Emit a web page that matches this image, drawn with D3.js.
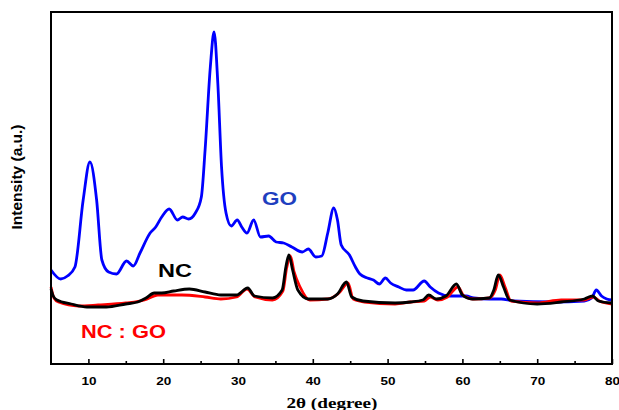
<!DOCTYPE html>
<html>
<head>
<meta charset="utf-8">
<script src="https://cdn.jsdelivr.net/npm/d3@7"></script>
<style>
  body { margin: 0; background: #fff; }
  svg { display: block; }
  .tick text { font-family: Arial, "Liberation Sans", sans-serif; font-weight: bold; font-size: 11px; }
</style>
</head>
<body>
<svg width="619" height="410"></svg>
<script>
// 2theta (degree) and intensity (a.u.)
var goX = [5.0, 6.3, 7.2, 8.2, 9.3, 10.2, 11.1, 11.8, 12.7, 13.75, 15.1, 16.0, 16.9, 18.25, 19.0, 19.8, 20.8, 21.9, 22.6, 23.4, 24.3, 25.1, 25.6, 26.3, 26.8, 27.3, 27.8, 28.4, 29.1, 29.9, 30.5, 31.2, 32.1, 33.0, 34.1, 35.1, 36.1, 37.2, 38.6, 39.4, 40.4, 41.2, 42.0, 42.8, 43.3, 43.8, 44.9, 45.7, 46.3, 47.3, 48.1, 48.9, 49.7, 50.4, 51.5, 52.5, 53.4, 54.9, 55.7, 56.8, 58.3, 60.5, 61.5, 63.6, 65.2, 66.8, 72.1, 76.3, 77.3, 77.9, 78.6, 79.3, 80.0];
var goY = [940, 850, 880, 970, 1640, 2020, 1640, 1040, 920, 900, 1030, 980, 1110, 1310, 1370, 1470, 1550, 1440, 1470, 1450, 1510, 1670, 2140, 2970, 3320, 2810, 1970, 1510, 1380, 1440, 1370, 1310, 1440, 1270, 1280, 1220, 1210, 1170, 1120, 1150, 1070, 1080, 1310, 1560, 1440, 1190, 1090, 970, 900, 860, 840, 800, 860, 810, 770, 740, 740, 830, 770, 710, 680, 680, 660, 650, 650, 630, 620, 630, 660, 740, 680, 650, 640];

var ncX = [5.0, 5.3, 5.8, 7.7, 9.8, 12.4, 15.0, 16.6, 17.7, 18.8, 19.8, 21.4, 23.5, 25.6, 27.7, 29.8, 31.3, 32.2, 34.6, 35.9, 36.4, 36.8, 37.3, 38.0, 39.4, 42.0, 43.3, 44.5, 45.2, 46.7, 51.0, 53.1, 54.7, 55.5, 56.5, 57.8, 59.2, 60.0, 61.3, 63.6, 64.2, 64.8, 65.5, 66.3, 70.0, 73.2, 76.3, 77.4, 78.2, 80.0];
var ncY = [750, 680, 640, 600, 570, 570, 600, 620, 660, 710, 710, 730, 750, 720, 690, 690, 760, 680, 660, 740, 970, 1090, 940, 740, 650, 650, 700, 820, 670, 630, 610, 620, 640, 690, 650, 680, 800, 690, 650, 660, 740, 890, 770, 640, 600, 620, 650, 680, 630, 610];

var ncgoX = [5.0, 5.4, 6.0, 8.7, 11.3, 15.0, 17.5, 19.3, 22.5, 25.6, 27.7, 29.8, 31.2, 32.3, 34.6, 36.0, 36.5, 37.0, 37.5, 38.3, 39.6, 42.0, 43.5, 44.7, 45.4, 46.9, 51.0, 53.1, 54.9, 55.7, 56.7, 58.0, 59.4, 60.2, 61.5, 63.6, 64.4, 65.0, 65.7, 66.5, 70.0, 73.2, 76.3, 77.5, 78.3, 80.0];
var ncgoY = [770, 660, 620, 580, 590, 610, 640, 690, 690, 670, 650, 670, 750, 670, 640, 730, 960, 1080, 920, 770, 640, 650, 710, 810, 650, 620, 600, 620, 630, 670, 640, 670, 770, 680, 650, 660, 740, 890, 770, 630, 610, 640, 640, 670, 630, 600];

var majorTicks = [10, 20, 30, 40, 50, 60, 70, 80];
var minorTicks = [15, 25, 35, 45, 55, 65, 75];

var svg = d3.select("svg");
var plotLeft = 51, plotRight = 612, plotTop = 12, plotBottom = 364;

var x = d3.scaleLinear().domain([5, 80]).range([plotLeft, plotRight]);
var y = d3.scaleLinear().domain([0, 3520]).range([plotBottom, plotTop]);

function series(xs, ys) {
	return xs.map(function(d, i) { return [d, ys[i]]; });
}

var line = d3.line()
	.x(function(d) { return x(d[0]); })
	.y(function(d) { return y(d[1]); })
	.curve(d3.curveMonotoneX);

var plots = [
	{data: series(goX, goY), colour: "#0000ff"},
	{data: series(ncgoX, ncgoY), colour: "#ff0000"},
	{data: series(ncX, ncY), colour: "#000000"}
];

svg.selectAll("path.trace").data(plots)
	.enter()
	.append("path")
	.attr("class", "trace")
	.attr("d", function(d) { return line(d.data); })
	.attr("fill", "none")
	.attr("stroke", function(d) { return d.colour; })
	.attr("stroke-width", 2.8)
	.attr("stroke-linejoin", "round");

// x axis, ticks pointing inward
svg.append("g")
	.attr("transform", "translate(0," + plotBottom + ")")
	.call(d3.axisBottom(x).tickValues(majorTicks).tickSize(-5).tickPadding(13).tickFormat(d3.format("d")))
	.call(function(g) {
		g.select(".domain").remove();
		g.selectAll(".tick line").attr("stroke-width", 1.6);
		// the picture is stretched a little sideways
		g.selectAll(".tick text").attr("textLength", 15).attr("lengthAdjust", "spacingAndGlyphs");
	});

svg.append("g")
	.attr("transform", "translate(0," + plotBottom + ")")
	.call(d3.axisBottom(x).tickValues(minorTicks).tickSize(-3).tickFormat(""))
	.call(function(g) {
		g.select(".domain").remove();
		g.selectAll(".tick line").attr("stroke-width", 1.6);
	});

// frame
svg.append("rect")
	.attr("x", plotLeft)
	.attr("y", plotTop)
	.attr("width", plotRight - plotLeft)
	.attr("height", plotBottom - plotTop)
	.attr("fill", "none")
	.attr("stroke", "#000")
	.attr("stroke-width", 2);

svg.append("text")
	.attr("x", 332)
	.attr("y", 408)
	.attr("text-anchor", "middle")
	.attr("textLength", 91)
	.attr("lengthAdjust", "spacingAndGlyphs")
	.style("font-family", "'Liberation Serif', 'Times New Roman', serif")
	.style("font-weight", "bold")
	.style("font-size", "15px")
	.text("2θ (degree)");

svg.append("text")
	.attr("transform", "translate(22,177) rotate(-90)")
	.attr("text-anchor", "middle")
	.attr("textLength", 105)
	.attr("lengthAdjust", "spacingAndGlyphs")
	.style("font-family", "Arial, 'Liberation Sans', sans-serif")
	.style("font-weight", "bold")
	.style("font-size", "14px")
	.text("Intensity (a.u.)");

// curve labels
var labels = [
	{text: "GO", at: [33.2, 1590], colour: "#1f3fbf", width: 35},
	{text: "NC", at: [19.3, 870], colour: "#000", width: 34},
	{text: "NC : GO", at: [9.0, 260], colour: "#ff0000", width: 85}
];
svg.selectAll("text.lab").data(labels)
	.enter()
	.append("text")
	.attr("class", "lab")
	.attr("x", function(d) { return x(d.at[0]); })
	.attr("y", function(d) { return y(d.at[1]); })
	.attr("fill", function(d) { return d.colour; })
	.attr("textLength", function(d) { return d.width; })
	.attr("lengthAdjust", "spacingAndGlyphs")
	.style("font-family", "Arial, 'Liberation Sans', sans-serif")
	.style("font-weight", "bold")
	.style("font-size", "18px")
	.text(function(d) { return d.text; });
</script>
</body>
</html>
